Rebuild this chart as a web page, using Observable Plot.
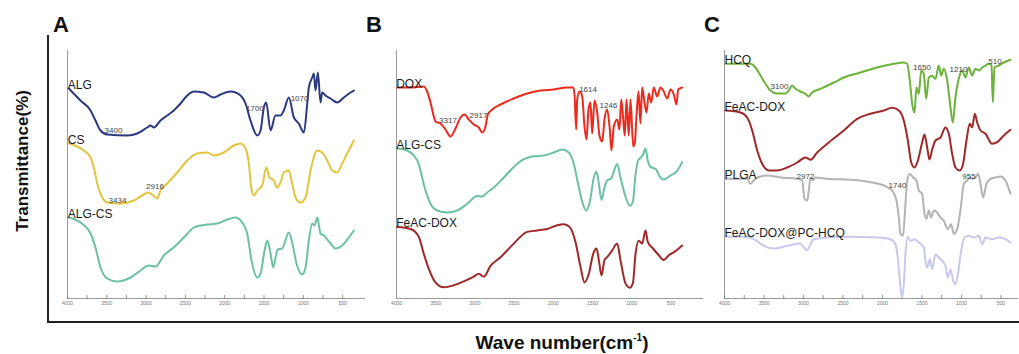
<!DOCTYPE html>
<html><head><meta charset="utf-8">
<script src="https://cdn.jsdelivr.net/npm/d3@7"></script>
<script src="https://cdn.jsdelivr.net/npm/@observablehq/plot@0.6"></script>
<style>
body{margin:0;background:#fff;font-family:"Liberation Sans",Arial,sans-serif;}
#wrap{position:relative;width:1019px;height:354px;overflow:hidden;background:#fff;}
.abs{position:absolute;}
.panel-letter{position:absolute;font-weight:bold;font-size:22px;line-height:22px;color:#111;}
#ylab{position:absolute;left:23px;top:161px;transform:translate(-50%,-50%) rotate(-90deg);font-weight:bold;font-size:17px;white-space:nowrap;color:#111;}
#xlab{position:absolute;left:562px;top:333px;transform:translateX(-50%);font-weight:bold;font-size:19px;white-space:nowrap;color:#111;line-height:19px;}
#xlab sup{font-size:10px;vertical-align:8px;line-height:0;}
</style></head><body>
<div id="wrap">
  <div class="abs" style="left:47px;top:35px;width:2px;height:288px;background:#222"></div>
  <div class="abs" style="left:47px;top:321px;width:972px;height:2px;background:#222"></div>
  <div class="panel-letter" style="left:53px;top:14px">A</div>
  <div class="panel-letter" style="left:366px;top:14px">B</div>
  <div class="panel-letter" style="left:704px;top:14px">C</div>
  <div id="ylab">Transmittance(%)</div>
  <div id="xlab">Wave number(cm<sup>-1</sup>)</div>
</div>
<script>
// ---- axis ticks ----
const majorTicks = [4000, 3500, 3000, 2500, 2000, 1500, 1000, 500];
const minorTicks = [4000, 3750, 3500, 3250, 3000, 2750, 2500, 2250, 2000, 1750, 1500, 1250, 1000, 750, 500];

// ---- Panel A spectra: [wavenumber, offset transmittance (a.u.)] ----
const ALG = [[3983,210],[3835,198],[3707,188],[3644,178],[3580,168],[3495,164],[3240,163],[3113,165],[2986,171],[2944,173],[2902,171],[2817,178],[2732,183],[2648,188],[2562,195],[2477,203],[2393,207],[2266,206],[2139,201],[2053,204],[1926,207],[1799,203],[1735,195],[1672,178],[1586,163],[1544,168],[1502,191],[1472,196],[1417,168],[1354,183],[1290,183],[1248,188],[1184,201],[1120,181],[1057,175],[993,166],[950,195],[930,211],[887,221],[866,225],[845,208],[815,226],[781,196],[760,206],[718,203],[654,200],[569,196],[484,201],[399,206],[357,208]];
const CS = [[3983,155],[3877,152],[3793,148],[3707,141],[3665,131],[3622,115],[3558,101],[3495,96],[3326,95],[3156,98],[3029,104],[2978,106],[2922,104],[2859,100],[2817,108],[2732,115],[2604,126],[2477,138],[2350,145],[2223,146],[2139,143],[2011,146],[1884,153],[1799,155],[1735,150],[1693,135],[1663,111],[1629,103],[1586,108],[1523,113],[1472,131],[1430,121],[1375,118],[1332,111],[1290,116],[1248,126],[1184,128],[1142,115],[1099,101],[1036,96],[972,101],[908,128],[823,148],[760,146],[696,138],[632,128],[569,126],[505,135],[442,145],[357,158]];
const ALGCS_A = [[3983,81],[3835,76],[3707,65],[3644,51],[3580,31],[3495,20],[3368,17],[3198,21],[3071,28],[2966,33],[2880,32],[2775,43],[2648,51],[2520,61],[2393,71],[2308,73],[2223,74],[2095,75],[1968,79],[1863,81],[1778,76],[1714,65],[1659,38],[1586,21],[1544,25],[1493,48],[1459,58],[1417,45],[1383,31],[1354,41],[1324,49],[1269,50],[1184,66],[1142,56],[1087,35],[1014,24],[972,31],[930,58],[887,75],[858,73],[823,81],[781,65],[739,63],[654,55],[590,50],[505,53],[421,61],[357,68]];

// ---- Panel B spectra ----
const DOX = [[3991,211],[3821,211],[3652,212],[3609,207],[3566,196],[3524,182],[3503,177],[3439,175],[3375,169],[3311,162],[3247,170],[3184,181],[3133,184],[3078,179],[3014,174],[2950,171],[2907,166],[2865,172],[2835,184],[2779,189],[2673,194],[2504,200],[2333,205],[2163,208],[1994,209],[1823,211],[1746,211],[1730,205],[1708,169],[1695,199],[1666,207],[1631,202],[1602,172],[1577,159],[1551,189],[1526,196],[1504,165],[1474,198],[1440,186],[1411,163],[1376,157],[1347,179],[1313,189],[1279,169],[1258,148],[1228,172],[1185,179],[1156,169],[1134,199],[1108,179],[1088,163],[1066,199],[1037,163],[1015,199],[981,152],[960,156],[939,182],[913,207],[888,175],[866,211],[837,196],[811,186],[782,205],[751,196],[718,211],[675,202],[633,211],[591,207],[547,200],[505,209],[463,204],[429,194],[407,209],[356,211]];
const ALGCS_B = [[3991,150],[3864,148],[3779,143],[3716,134.5],[3673,121],[3630,108],[3566,94.7],[3481,88],[3353,86],[3226,88],[3098,94.7],[2971,102.5],[2907,102],[2843,106],[2759,111],[2631,121],[2504,131.6],[2376,139.3],[2249,142.2],[2121,143],[1994,146],[1886,149],[1802,146],[1738,134.5],[1674,111],[1631,96.6],[1580,88],[1534,96.6],[1483,121],[1449,126.7],[1419,115],[1385,98.6],[1347,111],[1313,118],[1262,120],[1185,134.5],[1143,121],[1079,102],[1024,92.8],[985,96.6],[951,123.8],[922,137.4],[879,141.3],[853,144.2],[824,150],[794,137.4],[760,131.6],[696,129.6],[633,121],[591,119],[505,123],[420,127.7],[356,136.4]];
const FEACDOX_B = [[3991,71.4],[3821,69.5],[3716,61.7],[3652,44.7],[3588,29.7],[3503,16.1],[3397,11.2],[3269,13.2],[3142,17.1],[3014,21.9],[2950,24.8],[2886,21.9],[2801,32.6],[2673,41.3],[2504,54.9],[2333,66.6],[2206,68],[2078,69.5],[1950,73.3],[1866,74.3],[1789,71.4],[1717,56.4],[1653,31.6],[1602,16.1],[1547,24.8],[1491,44.7],[1449,50],[1419,38.4],[1385,22.9],[1347,38.4],[1313,41.3],[1249,48.1],[1185,54.9],[1143,38.4],[1079,15.1],[1024,10.75],[985,15.1],[951,44.7],[909,57.8],[866,54.9],[824,68],[794,56.4],[739,51],[654,43.3],[591,38.4],[527,43.3],[463,46.2],[356,53]];

// ---- Panel C spectra ----
const HCQ = [[3987,234.7],[3671,234.7],[3608,231],[3544,223],[3481,214.7],[3418,208],[3333,205],[3228,205],[3186,208],[3143,213],[3101,209.7],[3038,207],[2975,204.7],[2933,202],[2890,206],[2785,209.7],[2616,216],[2490,221],[2278,226],[2067,231],[1857,234.7],[1730,236],[1687,234.7],[1654,218],[1624,194.7],[1595,186],[1570,211],[1540,204.7],[1510,228],[1477,224.7],[1447,199.7],[1413,221],[1371,222.7],[1329,219.7],[1287,233],[1257,223],[1224,229.7],[1181,218],[1139,191],[1110,176],[1076,201],[1034,219.7],[991,228],[949,221],[907,231],[865,223],[823,229.7],[780,228],[738,231],[696,233],[654,234.7],[620,233],[603,196.3],[582,231],[527,233],[464,236],[380,238.7]];
const FEACDOX_C = [[3987,188],[3797,186],[3713,181],[3649,168],[3586,148],[3523,134.7],[3439,128],[3333,128],[3206,131],[3080,136],[2975,141],[2911,138.7],[2827,146],[2700,154.7],[2490,168],[2320,179.7],[2152,184.7],[1983,188],[1877,190.7],[1793,188],[1730,178],[1679,158],[1637,136.3],[1595,131],[1553,137.7],[1498,156],[1468,164],[1434,151],[1405,139],[1371,149],[1329,158],[1266,161],[1203,171],[1160,164.7],[1118,144.7],[1076,131],[1021,128],[979,134.7],[937,158],[895,174.7],[865,171],[831,184.7],[802,176.3],[759,168],[696,164.7],[612,154.7],[548,156.3],[464,163],[380,168.7]];
const PLGA = [[3987,119.7],[3713,119.7],[3671,114.7],[3629,118],[3586,121],[3460,123],[3291,121],[3080,119.7],[3017,118],[2987,99.7],[2953,98],[2933,108],[2911,121],[2877,118],[2856,121],[2700,119.7],[2405,118.7],[2152,116.3],[1983,113],[1877,108],[1823,98],[1793,81],[1772,64.7],[1739,63],[1717,84.7],[1687,118],[1654,124.7],[1612,121],[1570,118],[1540,108],[1498,104.7],[1468,84.7],[1443,79.7],[1413,88],[1384,81],[1350,88],[1308,86],[1266,81],[1224,77.7],[1173,69.3],[1131,74.3],[1097,64.7],[1055,69.3],[1013,88],[970,114.7],[928,118],[895,121],[865,119.7],[823,121],[789,124.7],[759,114.7],[726,101],[684,114.7],[633,119.7],[570,121],[506,122],[443,118],[380,104.7]];
const PCHCQ = [[3987,61.7],[3755,61.7],[3629,59.3],[3502,52.7],[3375,50],[3206,52.7],[3038,55],[2996,51],[2953,48.3],[2920,52.7],[2869,59.3],[2700,61],[2405,61.7],[2067,61],[1899,59.3],[1835,54.3],[1802,37.7],[1772,11],[1751,1],[1730,14.7],[1709,44.3],[1679,61.7],[1646,57.7],[1595,59.3],[1540,56],[1477,51],[1456,37.7],[1434,31],[1401,39.3],[1371,29.3],[1329,44.3],[1287,41],[1244,37.7],[1203,32.7],[1173,21],[1139,29.3],[1105,17.7],[1076,14.3],[1046,24.3],[1004,47.7],[962,61],[907,62.7],[844,61],[780,62.7],[738,54.3],[696,61],[612,59.3],[527,61],[443,59.3],[380,56]];

// ---- series names and colours ----
const seriesA = [
  {name: "ALG", data: ALG, color: "#2b3a80"},
  {name: "CS", data: CS, color: "#e3c43c"},
  {name: "ALG-CS", data: ALGCS_A, color: "#6cc0a6"}
];
const seriesB = [
  {name: "DOX", data: DOX, color: "#ec2a1e"},
  {name: "ALG-CS", data: ALGCS_B, color: "#6cc0a6"},
  {name: "FeAC-DOX", data: FEACDOX_B, color: "#a02828"}
];
const seriesC = [
  {name: "HCQ", data: HCQ, color: "#6cb33a"},
  {name: "FeAC-DOX", data: FEACDOX_C, color: "#a02828"},
  {name: "PLGA", data: PLGA, color: "#b3b3b3"},
  {name: "FeAC-DOX@PC-HCQ", data: PCHCQ, color: "#c8c8ec"}
];

// ---- peak annotations ----
const peaksA = [
  {text: "3400", wn: 3415, t: 166}, {text: "1700", wn: 1614, t: 188}, {text: "1070", wn: 1048, t: 198},
  {text: "3434", wn: 3364, t: 96}, {text: "2916", wn: 2887, t: 110}
];
const peaksB = [
  {text: "3317", wn: 3343, t: 176}, {text: "2917", wn: 2954, t: 181},
  {text: "1614", wn: 1557, t: 207}, {text: "1246", wn: 1296, t: 191}
];
const peaksC = [
  {text: "3100", wn: 3304, t: 210}, {text: "1650", wn: 1500, t: 229}, {text: "1210", wn: 1038, t: 227},
  {text: "510", wn: 576, t: 235}, {text: "2972", wn: 2975, t: 120}, {text: "1740", wn: 1810, t: 111},
  {text: "955", wn: 905, t: 120}
];

function panel({series, peaks, xEnd, left, width, marginRight, withTicks}) {
  const marks = [
    Plot.ruleY([0], {stroke: "#9a9a9a", strokeWidth: 1}),
    Plot.ruleX([4000], {stroke: "#9a9a9a", strokeWidth: 1}),
    Plot.axisX({ticks: majorTicks, tickSize: 0, tickPadding: 3, fontSize: 5, tickFormat: d => String(d), label: null})
  ];
  if (withTicks) marks.push(Plot.ruleX(minorTicks, {y1: -1, y2: 3, stroke: "#777", strokeWidth: 0.8}));
  for (const s of series) {
    marks.push(Plot.line(s.data, {x: d => d[0], y: d => d[1], stroke: s.color, strokeWidth: 2, curve: "monotone-x"}));
    marks.push(Plot.text([s.data[0]], {x: d => d[0], y: d => d[1], text: () => s.name, textAnchor: "start", lineAnchor: "bottom", fontSize: 12, fill: "#1a1a1a", dx: -1}));
  }
  marks.push(Plot.text(peaks, {x: "wn", y: "t", text: "text", lineAnchor: "bottom", fontSize: 8, fill: "#444"}));
  const svg = Plot.plot({
    width, height: 275, marginLeft: 7, marginRight, marginTop: 10, marginBottom: 17,
    x: {domain: [4000, xEnd]},
    y: {domain: [0, 248], axis: null},
    style: {fontFamily: '"Liberation Sans", Arial, sans-serif', background: "transparent", overflow: "visible", color: "#777"},
    marks
  });
  svg.style.position = "absolute";
  svg.style.left = left + "px";
  svg.style.top = "40px";
  document.getElementById("wrap").appendChild(svg);
}

panel({series: seriesA, peaks: peaksA, xEnd: 209, left: 60, width: 310, marginRight: 5, withTicks: true});
panel({series: seriesB, peaks: peaksB, xEnd: 84, left: 389, width: 320, marginRight: 6, withTicks: false});
panel({series: seriesC, peaks: peaksC, xEnd: 278, left: 717, width: 302, marginRight: 1, withTicks: true});
</script>
</body></html>
